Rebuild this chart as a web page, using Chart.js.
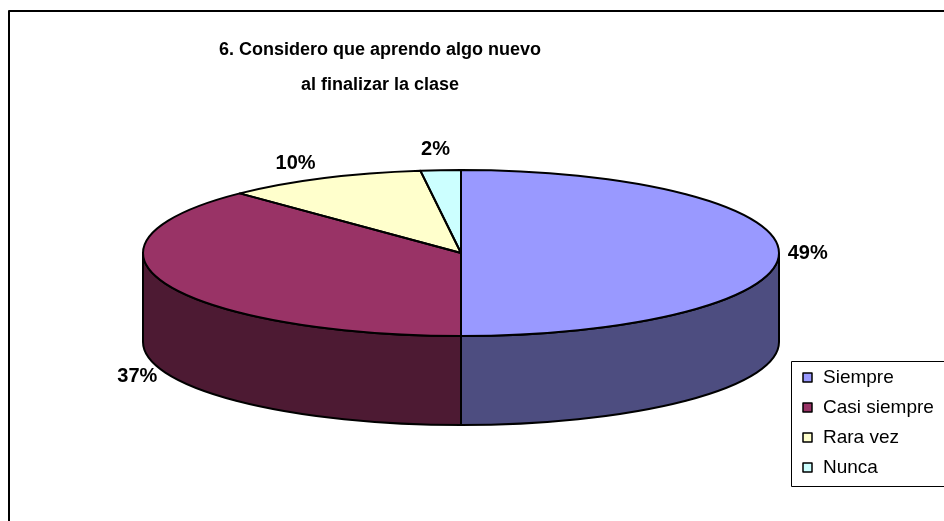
<!DOCTYPE html>
<html>
<head>
<meta charset="utf-8">
<script src="https://cdn.jsdelivr.net/npm/chart.js@4/dist/chart.umd.min.js"></script>
<style>
    html, body { margin: 0; padding: 0; background: #fff; overflow: hidden; }
    canvas { display: block; }
</style>
</head>
<body>
<canvas id="chart-pie" width="944" height="521"></canvas>
<script>
// 3D pie (Excel style) - Chart.js draws the top faces, plugin adds walls/labels/legend

const titleLines = ['6. Considero que aprendo algo nuevo', 'al finalizar la clase'];
const categories = ['Siempre', 'Casi siempre', 'Rara vez', 'Nunca'];
const percentages = [49, 37, 10, 2];
const topColors = ['#9999FF', '#993366', '#FFFFCC', '#CCFFFF'];
const sideColors = ['#4D4D80', '#4D1A33', '#80806A', '#6A8080'];

const FONT = '"Liberation Sans", Arial, sans-serif';
const DEPTH = 89;

function _ellipse(chart) {
    const a = chart.chartArea;
    const rx = (a.right - a.left) / 2;
    const ry = (a.bottom - a.top - DEPTH) / 2;
    return { cx: (a.left + a.right) / 2, cy: a.top + ry, rx, ry };
}

// parts of [s, e] that face the viewer (lower half of the ellipse)
function _frontRanges(s, e) {
    const out = [];
    for (let k = -1; k <= 1; k++) {
        const lo = Math.max(s, 2 * Math.PI * k);
        const hi = Math.min(e, 2 * Math.PI * k + Math.PI);
        if (hi > lo) out.push([lo, hi]);
    }
    return out;
}

function _inside(el, x, y) {
    const dx = (x - el.cx) / el.rx;
    const dyTop = (y - el.cy) / el.ry;
    const dyBot = (y - el.cy - DEPTH) / el.ry;
    if (dx * dx + dyTop * dyTop <= 1) return true;
    if (dx * dx + dyBot * dyBot <= 1) return true;
    return Math.abs(x - el.cx) <= el.rx && y >= el.cy && y <= el.cy + DEPTH;
}

const pie3d = {
    id: 'pie3d',
    beforeDatasetsDraw(chart) {
        const ctx = chart.ctx;
        const el = _ellipse(chart);
        const arcs = chart.getDatasetMeta(0).data;

        arcs.forEach((arc, i) => {
            _frontRanges(arc.startAngle, arc.endAngle).forEach(([a, b]) => {
                ctx.beginPath();
                ctx.ellipse(el.cx, el.cy, el.rx, el.ry, 0, a, b);
                ctx.ellipse(el.cx, el.cy + DEPTH, el.rx, el.ry, 0, b, a, true);
                ctx.closePath();
                ctx.fillStyle = sideColors[i];
                ctx.fill();
                ctx.lineWidth = 2;
                ctx.strokeStyle = '#000';
                ctx.stroke();
            });
        });

        // squash the library's circle onto the top ellipse
        const p = arcs[0];
        ctx.save();
        ctx.translate(el.cx, el.cy);
        ctx.scale(el.rx / p.outerRadius, el.ry / p.outerRadius);
        ctx.translate(-p.x, -p.y);
    },
    afterDatasetsDraw(chart) {
        const ctx = chart.ctx;
        ctx.restore();
        const el = _ellipse(chart);
        const arcs = chart.getDatasetMeta(0).data;
        ctx.lineWidth = 2;
        ctx.strokeStyle = '#000';
        ctx.lineJoin = 'round';
        arcs.forEach(arc => {
            ctx.beginPath();
            ctx.moveTo(el.cx, el.cy);
            ctx.lineTo(el.cx + el.rx * Math.cos(arc.startAngle), el.cy + el.ry * Math.sin(arc.startAngle));
            ctx.ellipse(el.cx, el.cy, el.rx, el.ry, 0, arc.startAngle, arc.endAngle);
            ctx.closePath();
            ctx.stroke();
        });
    },
    afterDraw(chart) {
        const ctx = chart.ctx;
        const el = _ellipse(chart);
        const arcs = chart.getDatasetMeta(0).data;
        const values = chart.data.datasets[0].data;

        // frame (only top and left edges are inside the picture)
        ctx.save();
        ctx.strokeStyle = '#000';
        ctx.lineWidth = 2;
        ctx.beginPath();
        ctx.moveTo(9, chart.height);
        ctx.lineTo(9, 11);
        ctx.lineTo(chart.width, 11);
        ctx.stroke();

        // title
        ctx.fillStyle = '#000';
        ctx.font = 'bold 18px ' + FONT;
        ctx.textAlign = 'center';
        ctx.textBaseline = 'middle';
        titleLines.forEach((t, i) => ctx.fillText(t, 380, 50 + i * 35));

        // percentage labels: anchor on the rim (bottom rim for front slices),
        // then pushed outward until clear of the pie
        ctx.font = 'bold 20px ' + FONT;
        arcs.forEach((arc, i) => {
            const mid = (arc.startAngle + arc.endAngle) / 2;
            const front = Math.sin(mid) > 0.05;
            let ux = el.rx * Math.cos(mid), uy = el.ry * Math.sin(mid);
            const len = Math.hypot(ux, uy);
            ux /= len; uy /= len;
            let x = el.cx + el.rx * Math.cos(mid) * 0.98;
            let y = el.cy + el.ry * Math.sin(mid) * 0.98 + (front ? DEPTH : 0);
            let n = 0;
            while (_inside(el, x, y) && n++ < 500) { x += ux; y += uy; }
            const txt = values[i] + '%';
            const w = ctx.measureText(txt).width;
            const push = Math.abs(ux) * w / 2 + Math.abs(uy) * 10 + 8;
            ctx.fillText(txt, x + ux * push, y + uy * push);
        });

        // legend
        const lx = 791, ly = 361;
        ctx.lineWidth = 1;
        ctx.strokeStyle = '#000';
        ctx.strokeRect(lx + 0.5, ly + 0.5, chart.width, 125);
        ctx.font = '19px ' + FONT;
        ctx.textAlign = 'left';
        chart.data.labels.forEach((lab, i) => {
            const y = ly + 16 + i * 30;
            ctx.fillStyle = topColors[i];
            ctx.fillRect(lx + 12, y - 4, 9, 9);
            ctx.lineWidth = 1.5;
            ctx.strokeRect(lx + 12, y - 4, 9, 9);
            ctx.fillStyle = '#000';
            ctx.fillText(lab, lx + 32, y + 1);
        });
        ctx.restore();
    }
};

new Chart(document.getElementById('chart-pie').getContext('2d'), {
    type: 'pie',
    data: {
        labels: categories,
        datasets: [{
            data: percentages,
            backgroundColor: topColors,
            borderWidth: 0,
            clip: false
        }]
    },
    options: {
        responsive: false,
        animation: false,
        events: [],
        layout: { padding: { left: 143, right: 165, top: 170, bottom: 96 } },
        plugins: {
            legend: { display: false },
            title: { display: false },
            tooltip: { enabled: false }
        }
    },
    plugins: [pie3d]
});
</script>
</body>
</html>
